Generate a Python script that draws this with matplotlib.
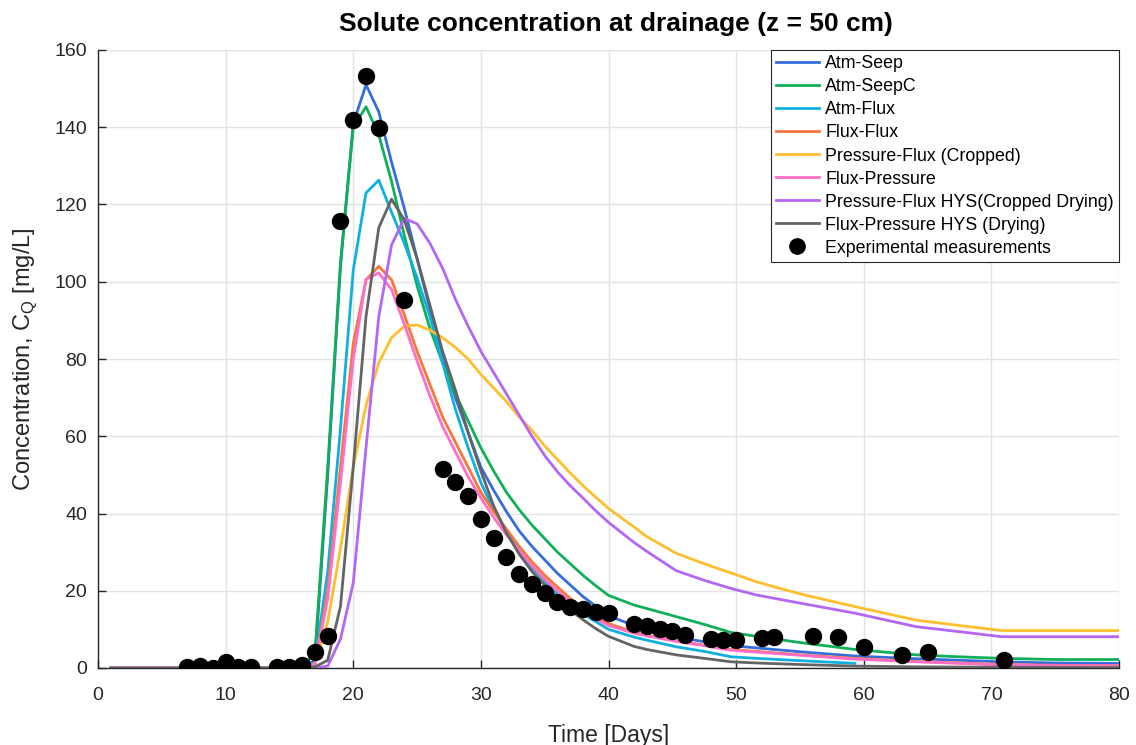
import numpy as np
import matplotlib
matplotlib.use("Agg")
import matplotlib.pyplot as plt

plt.rcParams['font.family'] = ['Liberation Sans', 'DejaVu Sans']

# Simulation output times [days]
t_days = [1, 16, 17, 18, 19, 20, 21, 22, 23, 24, 25, 26, 27, 28, 29, 30, 31, 32,
          33, 34, 35, 36, 37, 38, 39, 40,
          42, 43, 45.3, 47.5, 49.6, 51.6, 55, 59.3, 64.1, 67.5, 70.8, 75, 80]

atm_seep = [0, 0, 2, 50, 104, 141, 151, 144, 131, 119, 106, 93, 80, 70, 61, 52,
            46, 40.5, 35.5, 31.5, 28, 24.5, 21.5, 18.5, 16, 13.5,
            11, 10, 8, 6.8, 5.8, 5.2, 4.2, 3.1, 2.4, 2.0, 1.6, 1.3, 1.2]

atm_seepc = [0, 0, 4, 52, 105, 140, 145.3, 138, 126, 112, 99, 88, 79, 71, 64, 57,
             51, 45.5, 41, 37, 33.5, 30, 27, 24, 21.3, 18.8,
             16.3, 15.4, 13.3, 11.3, 9.2, 8.2, 6.6, 4.8, 3.4, 2.9, 2.5, 2.2, 2.2]

atm_flux = [0, 0, 1.5, 25, 62, 103, 123, 126.3, 118, 110, 101, 91, 79, 67, 57, 48,
            41, 35.5, 30.5, 26, 22.5, 19, 16.5, 14, 12, 10,
            8, 7.2, 5.5, 4.3, 2.9, 2.5, 1.9, 1.2]

flux_flux = [0, 0, 1, 20, 52, 84, 100.5, 104, 100.5, 91.5, 82, 73.5, 65, 58.5, 52, 45.5,
             40.5, 36, 31.5, 27.5, 24, 21, 18, 15.5, 13.3, 11.5,
             9.3, 8.5, 7.1, 5.9, 4.8, 4.3, 3.4, 2.5, 1.7, 1.3, 0.9, 0.7, 0.6]

pressure_flux = [0, 0, 1, 12, 31, 52, 68, 79, 85.5, 88.5, 88.8, 87.5, 85.5, 83, 80, 76,
                 72.5, 69, 65, 61.5, 57.5, 54, 50.5, 47.2, 44.2, 41.3,
                 36.5, 34, 29.7, 27, 24.6, 22.3, 19.2, 15.9, 12.4, 11, 9.7, 9.7, 9.7]

flux_pressure = [0, 0, 1, 18, 48, 80, 100.6, 102.3, 98, 89, 79.5, 70.5, 62.5, 56, 49.5, 44,
                 39, 34.5, 30.5, 26.5, 23, 20, 17.3, 15, 12.8, 11,
                 9, 8.3, 6.9, 5.8, 4.6, 4.1, 3.3, 2.3, 1.6, 1.2, 0.8, 0.6, 0.5]

pressure_flux_hys = [0, 0, 0, 0.5, 7.5, 22, 57, 91, 109.5, 116.4, 115, 110, 103.5, 95.5, 88.5, 82,
                     76.5, 71, 65.5, 60, 55, 50.8, 47.2, 44, 40.7, 37.7,
                     32.5, 30.2, 25.2, 22.7, 20.6, 18.9, 16.8, 14.2, 10.7, 9.4, 8.1, 8.1, 8.1]

flux_pressure_hys = [0, 0, 0.3, 2, 16, 52, 91, 114, 121.4, 116, 106, 94, 82, 72, 61, 51,
                     42, 35, 29.5, 25, 21.5, 18, 15, 12.5, 10.2, 8.2,
                     5.6, 4.8, 3.4, 2.5, 1.6, 1.3, 0.9, 0.5, 0.3, 0.25, 0.2, 0.15, 0.1]

# Measured drainage concentrations
meas_days = [7, 8, 9, 10, 11, 12, 14, 15, 16, 17, 18, 19, 20, 21, 22, 24, 27, 28, 29, 30,
             31, 32, 33, 34, 35, 36, 37, 38, 39, 40, 42, 43, 44, 45, 46, 48, 49, 50,
             52, 53, 56, 58, 60, 63, 65, 71]
meas_conc = [0.3, 0.5, 0, 1.5, 0.3, 0.3, 0.3, 0.3, 0.7, 4.2, 8.3, 115.7, 142, 153.2, 139.8,
             95.2, 51.5, 48.2, 44.6, 38.6, 33.7, 28.7, 24.4, 21.7, 19.4, 17.1, 15.8, 15.3,
             14.5, 14.2, 11.4, 10.9, 10.1, 9.6, 8.5, 7.5, 7.2, 7.2, 7.8, 8.0, 8.3, 8.0,
             5.4, 3.4, 4.1, 2.1]

series = [
    ("Atm-Seep", atm_seep, "#356ddd"),
    ("Atm-SeepC", atm_seepc, "#0fb057"),
    ("Atm-Flux", atm_flux, "#0fb0e0"),
    ("Flux-Flux", flux_flux, "#f7773a"),
    ("Pressure-Flux (Cropped)", pressure_flux, "#fdbf2d"),
    ("Flux-Pressure", flux_pressure, "#ff6fc8"),
    ("Pressure-Flux HYS(Cropped Drying)", pressure_flux_hys, "#b466f5"),
    ("Flux-Pressure HYS (Drying)", flux_pressure_hys, "#646464"),
]

fig = plt.figure(figsize=(11.36, 7.45), dpi=100)
ax = fig.add_axes([98 / 1136, 77 / 745, 1021 / 1136, 618 / 745])

for label, vals, color in series:
    ax.plot(t_days[:len(vals)], vals, color=color, lw=2.0, label=label, zorder=3)

ax.plot(meas_days, meas_conc, 'o', color='black', markersize=11.5, ls='none',
        label='Experimental measurements', zorder=4)

ax.set_xlim(0, 80)
ax.set_ylim(0, 160)
ax.set_xticks(np.arange(0, 81, 10))
ax.set_yticks(np.arange(0, 161, 20))
ax.grid(True, color='#e3e3e3', lw=1.0)
ax.set_axisbelow(True)
for side in ('top', 'right'):
    ax.spines[side].set_visible(False)
for side in ('left', 'bottom'):
    ax.spines[side].set_color('#262626')
    ax.spines[side].set_linewidth(1.0)
ax.tick_params(direction='in', length=6, width=1.0, colors='#262626',
               labelsize=14, labelcolor='#262626')
ax.tick_params(axis='x', pad=14)
ax.tick_params(axis='y', pad=8)

ax.set_xlabel('Time [Days]', fontsize=16.5, color='#262626', labelpad=14)
ax.set_ylabel('Concentration, C$_\\mathregular{Q}$ [mg/L]', fontsize=17, color='#262626', labelpad=11)
ax.set_title('Solute concentration at drainage (z = 50 cm)', fontsize=19,
             fontweight='bold', color='black', pad=14, x=0.507)

leg = ax.legend(loc='upper right', fontsize=12.8, frameon=True, fancybox=False,
                edgecolor='#262626', framealpha=1, borderpad=0.3, labelspacing=0.34,
                handlelength=2.4, handletextpad=0.35, borderaxespad=0.0)
leg.get_frame().set_linewidth(0.8)
for h in leg.legend_handles[-1:]:
    h.set_markersize(11)

fig.savefig('out.png', dpi=100, facecolor='white')
